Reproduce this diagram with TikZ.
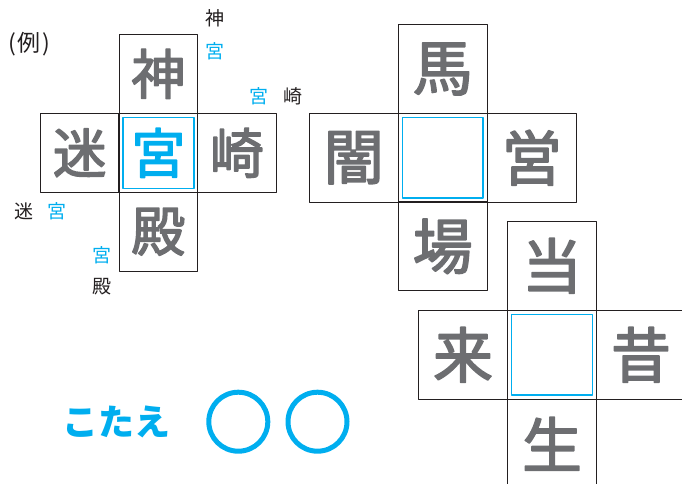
\documentclass[tikz,border=0pt]{standalone}
\usepackage{fontspec}
\newfontfamily\jp{Noto Sans CJK JP}
\newfontfamily\jpmid{Noto Sans CJK JP}[FakeBold=2.6]
\definecolor{kanjigray}{HTML}{6D6E71}
\definecolor{answerblue}{HTML}{00AEEF}
\definecolor{labelink}{HTML}{231F20}
\begin{document}
\begin{tikzpicture}[x=1pt, y=-1pt, line join=round,
    cell/.style={draw=labelink, line width=1.1pt, minimum size=#1, inner sep=0pt, text=kanjigray},
    hole/.style={draw=answerblue, line width=1.4pt, minimum size=#1, inner sep=0pt},
    big/.style={font=\jpmid\fontsize{#1}{#1}\selectfont},
    small/.style={font=\jp\fontsize{19}{19}\selectfont, inner sep=0pt, text=labelink},
    ring/.style={draw=answerblue, line width=5pt, circle, minimum size=59pt, inner sep=0pt}]
  \useasboundingbox (0,0) rectangle (682,483);
  \clip (0,0) rectangle (682,483);
  % example
  \node[font=\jp\fontsize{23}{23}\selectfont, text=labelink, inner sep=0pt] (rei) at (29.5,44) {(\kern1.5pt 例\kern1.5pt)};
  \node[cell=78.5pt, big=54, text=answerblue] (exc) at (158.3,152.8) {宮};
  \node[hole=71pt] (exhole) at (exc) {};
  \foreach \arm/\dx/\dy/\kanji in {t/0/-1/神, l/-1/0/迷, r/1/0/崎, b/0/1/殿}
    \node[cell=78.5pt, big=54] (ex\arm) at ([shift={(\dx*78.6,\dy*79)}]exc) {\kanji};
  \node[small] (lblshin) at (215,18.5) {神};
  \node[small, text=answerblue] (lblmiya1) at (215,51.7) {宮};
  \node[small, text=answerblue] (lblmiya2) at (259,96.7) {宮};
  \node[small] (lblsaki) at (293.3,96.7) {崎};
  \node[small] (lblmei) at (24,211.7) {迷};
  \node[small, text=answerblue] (lblmiya3) at (56.7,211.7) {宮};
  \node[small, text=answerblue] (lblmiya4) at (101.7,255) {宮};
  \node[small] (lblden) at (101.7,286.7) {殿};
  % first puzzle
  \node[cell=89pt] (pac) at (442.7,157.7) {};
  \node[hole=80.5pt] (pahole) at (pac) {};
  \foreach \arm/\dx/\dy/\kanji in {t/0/-1/馬, l/-1/0/闇, r/1/0/営, b/0/1/場}
    \node[cell=89pt, big=60] (pa\arm) at ([shift={(\dx*89,\dy*88.7)}]pac) {\kanji};
  % second puzzle
  \node[cell=89pt] (pbc) at (552,354.8) {};
  \node[hole=80.5pt] (pbhole) at (pbc) {};
  \foreach \arm/\dx/\dy/\kanji in {t/0/-1/当, l/-1/0/来, r/1/0/昔, b/0/1/生}
    \node[cell=89pt, big=60] (pb\arm) at ([shift={(\dx*89,\dy*89)}]pbc) {\kanji};
  % answer
  \node[font=\jp\bfseries\fontsize{36}{36}\selectfont, text=answerblue, inner sep=0pt] (kotae) at (116,421.7) {こたえ};
  \node[ring] (ans1) at (238.3,421.7) {};
  \node[ring] (ans2) at (317.5,421.7) {};
\end{tikzpicture}
\end{document}
